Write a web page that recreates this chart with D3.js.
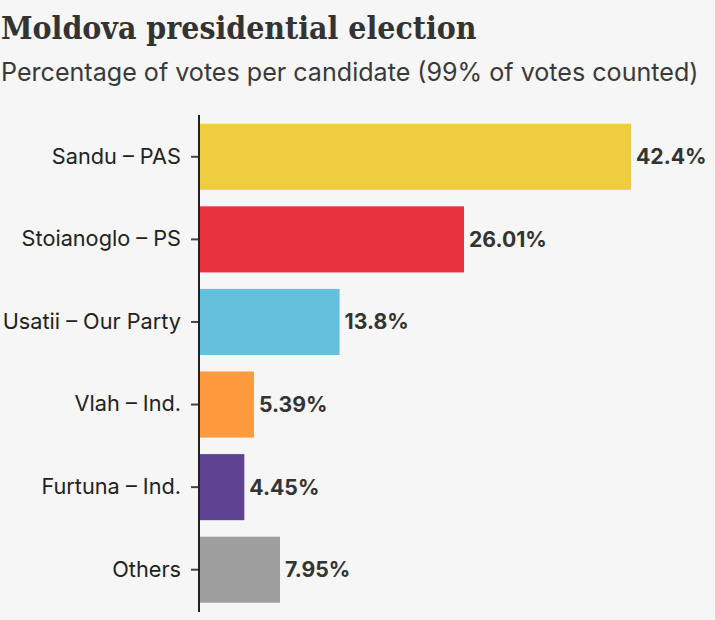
<!DOCTYPE html>
<html>
<head>
<meta charset="utf-8">
<script src="https://cdn.jsdelivr.net/npm/d3@7"></script>
<style>
html, body { margin: 0; padding: 0; background: #f6f6f6; }
svg { display: block; }
</style>
</head>
<body>
<script>
const candidates = ["Sandu – PAS", "Stoianoglo – PS", "Usatii – Our Party", "Vlah – Ind.", "Furtuna – Ind.", "Others"];
const shares = [42.4, 26.01, 13.8, 5.39, 4.45, 7.95];
const barColors = ["#eecd40", "#e93240", "#65c0dd", "#ff9b3e", "#5f4393", "#9e9e9e"];
const sans = "Inter, 'Open Sans', sans-serif";

const svg = d3.select("body").append("svg").attr("width", 715).attr("height", 620);

svg.append("text").attr("x", 1).attr("y", 39)
    .style("font", "bold 31.7px 'DejaVu Serif Condensed', 'Liberation Serif', serif")
    .style("fill", "#333").text("Moldova presidential election");
svg.append("text").attr("x", 1).attr("y", 81)
    .style("font", "25.1px " + sans)
    .style("fill", "#3a3a3a").text("Percentage of votes per candidate (99% of votes counted)");

const x = d3.scaleLinear().domain([0, 42.4]).range([199, 631]);
const y = d3.scaleBand().domain(candidates).range([115.5, 611]).paddingInner(0.2).paddingOuter(0.1);

svg.selectAll("rect.bar").data(candidates).join("rect")
    .attr("class", "bar")
    .attr("x", x(0))
    .attr("y", d => y(d))
    .attr("width", (d, i) => x(shares[i]) - x(0))
    .attr("height", y.bandwidth())
    .attr("fill", (d, i) => barColors[i]);

const axis = svg.append("g").attr("transform", "translate(199,0)")
    .call(d3.axisLeft(y).tickSize(8).tickPadding(10));
axis.select(".domain").remove();
axis.selectAll("line").attr("stroke", "#444").attr("stroke-width", 2);
axis.selectAll("text").style("font", "21.7px " + sans).style("fill", "#222");

svg.append("line").attr("x1", 199).attr("x2", 199).attr("y1", 115).attr("y2", 612)
    .attr("stroke", "#222").attr("stroke-width", 2);

svg.selectAll("text.value").data(candidates).join("text")
    .attr("class", "value")
    .attr("x", (d, i) => x(shares[i]) + 5)
    .attr("y", d => y(d) + y.bandwidth() / 2)
    .attr("dy", "0.35em")
    .style("font", "bold 21.2px " + sans)
    .style("fill", "#333")
    .text((d, i) => shares[i] + "%");
</script>
</body>
</html>
